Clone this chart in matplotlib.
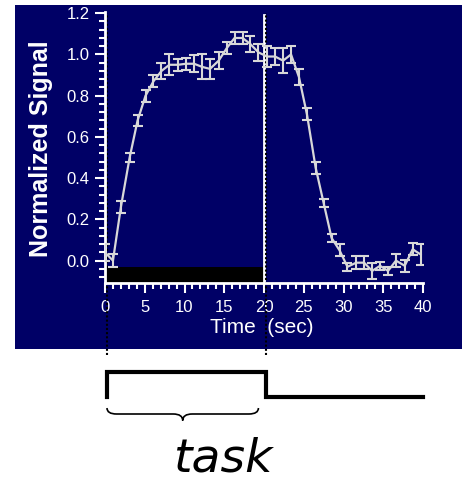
import matplotlib
matplotlib.use('Agg')
import matplotlib.pyplot as plt
import matplotlib.transforms as mtransforms
from matplotlib.ticker import MultipleLocator, FormatStrFormatter
from matplotlib.patches import Rectangle, PathPatch
from matplotlib.path import Path

plt.rcParams['font.family'] = ['Liberation Sans', 'DejaVu Sans']

# time course (sec, normalized signal, error)
time_s = [0.0, 1.0, 2.0, 3.1, 4.1, 5.1, 6.1, 7.1, 8.1, 9.2,
          10.2, 11.2, 12.2, 13.2, 14.3, 15.3, 16.3, 17.3, 18.3, 19.3,
          20.4, 21.4, 22.4, 23.4, 24.4, 25.4, 26.5, 27.5, 28.5, 29.5,
          30.5, 31.6, 32.6, 33.6, 34.6, 35.6, 36.6, 37.7, 38.7, 39.7]
signal = [0.04, 0.00, 0.26, 0.50, 0.68, 0.80, 0.87, 0.92, 0.95, 0.95,
          0.955, 0.955, 0.94, 0.93, 0.97, 1.03, 1.08, 1.08, 1.05, 1.01,
          0.99, 0.99, 0.97, 1.00, 0.89, 0.71, 0.45, 0.28, 0.11, 0.05,
          -0.03, -0.01, -0.01, -0.05, -0.025, -0.05, 0.00, -0.025, 0.055, 0.03]
err = [0.04, 0.03, 0.03, 0.02, 0.025, 0.03, 0.03, 0.04, 0.05, 0.03,
       0.03, 0.04, 0.06, 0.05, 0.04, 0.03, 0.03, 0.03, 0.04, 0.04,
       0.05, 0.04, 0.06, 0.04, 0.04, 0.03, 0.03, 0.02, 0.02, 0.03,
       0.02, 0.03, 0.03, 0.04, 0.02, 0.02, 0.03, 0.03, 0.03, 0.05]
task_on, task_off, run_end = 0, 20, 40

W, H = 462, 482
navy = '#000066'
grey = '#d8d8d8'

fig = plt.figure(figsize=(W / 100, H / 100), dpi=100)
fig.add_artist(Rectangle((15 / W, 1 - 349 / H), (W - 15) / W, 344 / H,
                         transform=fig.transFigure, facecolor=navy,
                         edgecolor='none', zorder=-5))

ax = fig.add_axes([105 / W, 1 - 283.3 / H, (423 - 105) / W, (283.3 - 12) / H])
ax.set_facecolor('none')
ax.set_xlim(0, 40)
ax.set_ylim(-0.11, 1.206)

for s in ['top', 'right']:
    ax.spines[s].set_visible(False)
for s in ['left', 'bottom']:
    ax.spines[s].set_color('white')
    ax.spines[s].set_linewidth(2)

ax.xaxis.set_major_locator(MultipleLocator(5))
ax.xaxis.set_minor_locator(MultipleLocator(1))
ax.yaxis.set_major_locator(MultipleLocator(0.2))
ax.yaxis.set_minor_locator(MultipleLocator(0.04))
ax.yaxis.set_major_formatter(FormatStrFormatter('%.1f'))
ax.tick_params(which='both', colors='white', direction='out', width=1.5,
               labelsize=12, labelcolor='white')
ax.tick_params(which='major', length=7)
ax.tick_params(which='minor', length=4.5)
ax.tick_params(axis='x', pad=5)
ax.tick_params(axis='y', pad=4)

# task period bar and onset/offset markers
ax.fill_between([task_on, task_off], -0.107, -0.032, color='black', lw=0, zorder=2)
ax.plot([task_off, task_off], [-0.11, 1.19], color='white', lw=2, zorder=2)
for xv in [task_on + 0.25, task_off + 0.25]:
    ax.plot([xv, xv], [-0.46, 1.2], color='black', lw=1.5, ls=(0, (1, 1)),
            clip_on=False, zorder=2)

ax.errorbar(time_s, signal, yerr=err, color=grey, lw=1.6, elinewidth=1.5,
            capsize=3.5, capthick=1.5, zorder=3)

fig.text(262 / W, 1 - 333 / H, 'Time  (sec)', ha='center', va='baseline',
         color='white', fontsize=15)
fig.text(41 / W, 1 - 149 / H, 'Normalized Signal', rotation=90, ha='center',
         va='center', color='white', fontsize=18, fontweight='bold')

# stimulus timeline below the panel
trans = mtransforms.blended_transform_factory(ax.transData, fig.transFigure)
lo, hi = 1 - 396.5 / H, 1 - 371.5 / H
x0, x1 = task_on + 0.25, task_off + 0.25
ax.plot([x0, x0, x1, x1, run_end], [lo, hi, hi, lo, lo], color='black', lw=3,
        transform=trans, clip_on=False, solid_joinstyle='miter')

# curly brace under the task block
top, mid, tip = 1 - 408 / H, 1 - 414 / H, 1 - 420.5 / H
bl, br = task_on + 0.25, task_off - 0.7
bm = (bl + br) / 2
verts = [(bl, top), (bl, mid), (bl + 1.2, mid), (bm - 1.2, mid),
         (bm, mid), (bm, tip), (bm, mid), (bm + 1.2, mid),
         (br - 1.2, mid), (br, mid), (br, top)]
codes = [Path.MOVETO, Path.CURVE3, Path.CURVE3, Path.LINETO,
         Path.CURVE3, Path.CURVE3, Path.CURVE3, Path.CURVE3,
         Path.LINETO, Path.CURVE3, Path.CURVE3]
fig.add_artist(PathPatch(Path(verts, codes), transform=trans, facecolor='none',
                         edgecolor='black', lw=1.2))

fig.text(224 / W, 1 - 481 / H, 'task', ha='center', va='bottom',
         fontsize=34, style='italic', family='DejaVu Sans', color='black')

fig.savefig('out.png', dpi=100)
